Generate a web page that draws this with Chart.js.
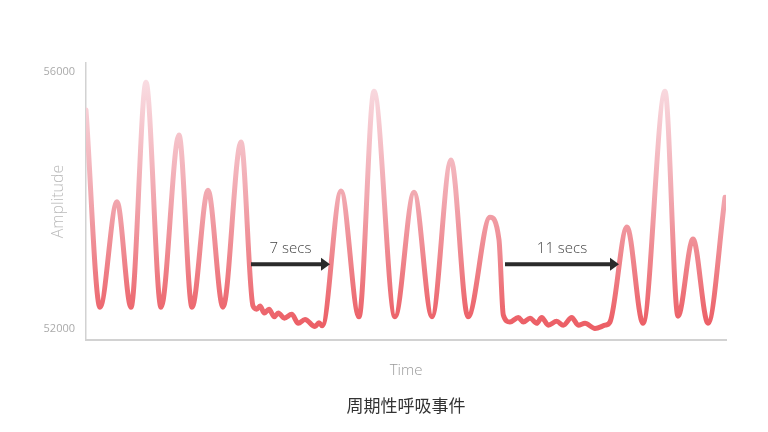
<!DOCTYPE html>
<html>
<head>
<meta charset="utf-8">
<script src="https://cdn.jsdelivr.net/npm/chart.js@4"></script>
<style>
  html, body { margin: 0; padding: 0; background: #fff; }
  #wrap { width: 768px; height: 432px; }
</style>
</head>
<body>
<div id="wrap"><canvas id="grafica"></canvas></div>
<script>
// tiempo (s) y amplitud
const tiempos = [
  0, 1.4, 3.1, 4.5, 6.0, 7.5, 9.3, 10.6, 12.2, 13.7, 15.5, 16.7,
  17.07, 17.4, 17.83, 18.3, 18.83, 19.23, 19.83, 20.57, 21.23, 21.9, 22.9, 23.3, 23.63,
  25.5, 27.3, 28.8, 30.9, 32.8, 34.6, 36.5, 38.2, 40.4, 41.3, 41.73,
  42.4, 43.23, 43.73, 44.4, 45.07, 45.57, 46.23, 47.07, 47.73, 48.57, 49.23, 49.9, 50.9, 51.9, 52.4,
  54.1, 55.7, 57.9, 59.2, 60.7, 62.2, 63.9
];
const amplitud = [
  55410, 52340, 53980, 52340, 55840, 52340, 55020, 52340, 54160, 52340, 54910, 52360,
  52310, 52360, 52250, 52310, 52190, 52250, 52170, 52230, 52090, 52150, 52040, 52100, 52050,
  54150, 52190, 55700, 52190, 54130, 52190, 54630, 52190, 53740, 53390, 52220,
  52110, 52180, 52110, 52170, 52090, 52180, 52060, 52120, 52060, 52180, 52060, 52090, 52010, 52060, 52110,
  53590, 52090, 55700, 52200, 53400, 52090, 54050
];
const ticksY = [52000, 56000];
const titulo = '周期性呼吸事件';

// flechas de apnea: [inicio, fin, amplitud, etiqueta]
const flechas = [
  [16.5, 24.4, 53010, '7 secs'],
  [41.9, 53.3, 53010, '11 secs']
];

const pluginFlechas = {
  id: 'flechas',
  afterDatasetsDraw(chart) {
    const ctx = chart.ctx;
    const x = chart.scales.x, y = chart.scales.y;
    ctx.save();
    flechas.forEach(f => {
      const x0 = x.getPixelForValue(f[0]);
      const x1 = x.getPixelForValue(f[1]);
      const yy = y.getPixelForValue(f[2]);
      ctx.strokeStyle = '#2b2b2b';
      ctx.fillStyle = '#2b2b2b';
      ctx.lineWidth = 4;
      ctx.beginPath();
      ctx.moveTo(x0, yy);
      ctx.lineTo(x1 - 8, yy);
      ctx.stroke();
      ctx.beginPath();
      ctx.moveTo(x1, yy);
      ctx.lineTo(x1 - 9, yy - 6.5);
      ctx.lineTo(x1 - 9, yy + 6.5);
      ctx.closePath();
      ctx.fill();
      ctx.font = '300 15px "Open Sans"';
      ctx.fillStyle = '#444';
      ctx.textAlign = 'center';
      ctx.textBaseline = 'alphabetic';
      ctx.fillText(f[3], (x0 + x1) / 2, yy - 11);
    });
    ctx.restore();
  }
};

function gradiente(context) {
  const area = context.chart.chartArea;
  if (!area) return '#ec6068';
  const g = context.chart.ctx.createLinearGradient(0, area.top + 15, 0, area.bottom - 15);
  g.addColorStop(0, '#f9dde3');
  g.addColorStop(0.5, '#f1a5ad');
  g.addColorStop(1, '#ec5f66');
  return g;
}

new Chart(document.getElementById('grafica'), {
  type: 'line',
  data: {
    datasets: [{
      data: tiempos.map((t, i) => ({ x: t, y: amplitud[i] })),
      borderColor: gradiente,
      borderWidth: 5,
      pointRadius: 0,
      cubicInterpolationMode: 'monotone',
      borderCapStyle: 'round',
      borderJoinStyle: 'round',
      fill: false
    }]
  },
  options: {
    responsive: true,
    maintainAspectRatio: false,
    animation: false,
    layout: { padding: { top: 63, right: 42, left: 0, bottom: 0 } },
    plugins: {
      legend: { display: false },
      tooltip: { enabled: false }
    },
    scales: {
      x: {
        type: 'linear',
        min: 0,
        max: 64,
        weight: 0,
        grid: { display: false, drawTicks: false },
        border: { color: '#d2d2d2', width: 2 },
        ticks: { display: false },
        title: {
          display: true,
          text: 'Time',
          color: '#9a9a9a',
          font: { family: '"Open Sans"', size: 15, weight: '300' },
          padding: { top: 0, bottom: 5 }
        },
        afterFit(s) { s.height = 45; }
      },
      // eje auxiliar solo para el título centrado bajo el área del gráfico
      x2: {
        type: 'linear',
        position: 'bottom',
        min: 0,
        max: 64,
        weight: 1,
        grid: { display: false, drawTicks: false },
        border: { display: false },
        ticks: { display: false },
        title: {
          display: true,
          text: titulo,
          color: '#333',
          font: { family: '"Noto Sans CJK SC"', size: 17, weight: 'normal' },
          padding: { top: 0, bottom: 15.8 }
        },
        afterFit(s) { s.height = 47; }
      },
      y: {
        min: 51830,
        max: 56140,
        grid: { display: false, drawTicks: false },
        border: { color: '#d2d2d2', width: 1.5 },
        afterBuildTicks(s) { s.ticks = ticksY.map(v => ({ value: v })); },
        ticks: {
          padding: 11,
          color: '#aaa',
          font: { family: '"Open Sans"', size: 11 },
          callback: v => String(v)
        },
        title: {
          display: true,
          text: 'Amplitude',
          color: '#bbb',
          font: { family: '"Open Sans"', size: 16, weight: '300' },
          padding: { top: 49, bottom: 0 }
        },
        afterFit(s) { s.width = 86; }
      }
    }
  },
  plugins: [pluginFlechas]
});
</script>
</body>
</html>
